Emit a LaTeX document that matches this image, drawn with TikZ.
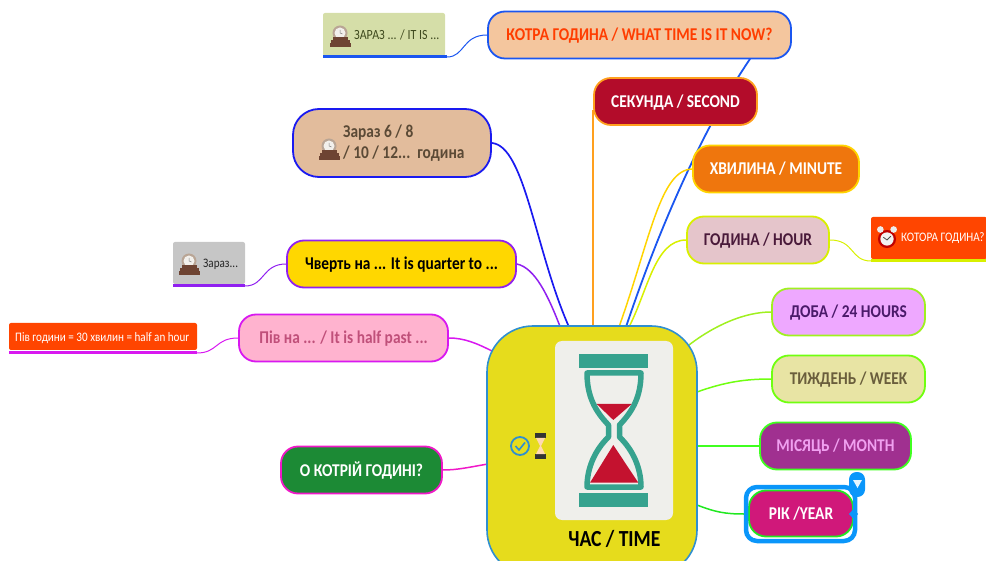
\documentclass[tikz,border=0pt]{standalone}
\usepackage{fontspec}
\setmainfont[FakeStretch=0.855]{Carlito}
\usetikzlibrary{
  backgrounds
}
\definecolor{tealglass}{HTML}{36A28E}
\definecolor{redsand}{HTML}{C4122F}
\definecolor{selblue}{HTML}{0A96FA}
\definecolor{timefill}{HTML}{E6DC1C}
\definecolor{timeline}{HTML}{2F8FD0}
\definecolor{cardfill}{HTML}{EFEFEB}
\definecolor{linkblue}{HTML}{1A56F0}
\definecolor{linkindigo}{HTML}{1A1AF0}
\definecolor{linkorange}{HTML}{FFA01E}
\definecolor{linkyellow}{HTML}{FFD400}
\definecolor{linkacid}{HTML}{D8F000}
\definecolor{linklime}{HTML}{A0F020}
\definecolor{linkgreen}{HTML}{70FF10}
\definecolor{linkgreenb}{HTML}{40FF20}
\definecolor{linkgreenc}{HTML}{20E820}
\definecolor{linkpurple}{HTML}{9020F0}
\definecolor{linkpink}{HTML}{D818F0}
\definecolor{linkrose}{HTML}{F018C8}
\definecolor{nowfill}{HTML}{F4C69E}
\definecolor{nowtext}{HTML}{FF3D00}
\definecolor{secondfill}{HTML}{B30C2A}
\definecolor{minutefill}{HTML}{EF760D}
\definecolor{hourfill}{HTML}{E5C5CB}
\definecolor{hourtext}{HTML}{4A1A3A}
\definecolor{dayfill}{HTML}{EEA8FF}
\definecolor{daytext}{HTML}{4A1A6A}
\definecolor{weekfill}{HTML}{E8E4A4}
\definecolor{weektext}{HTML}{6A5E3C}
\definecolor{monthfill}{HTML}{A03090}
\definecolor{monthtext}{HTML}{F0A0F0}
\definecolor{yearfill}{HTML}{D0187A}
\definecolor{sixfill}{HTML}{E2BC9C}
\definecolor{sixtext}{HTML}{5B4A36}
\definecolor{quarterfill}{HTML}{FFD700}
\definecolor{halffill}{HTML}{FFB3CF}
\definecolor{halftext}{HTML}{C0507A}
\definecolor{whichfill}{HTML}{1C8A35}
\definecolor{itisfill}{HTML}{D5DEA8}
\definecolor{itistext}{HTML}{3F4A1E}
\definecolor{greyfill}{HTML}{C6C6C6}
\definecolor{alertfill}{HTML}{FF4500}
\definecolor{woodbrown}{HTML}{6E4433}
\definecolor{clockdome}{HTML}{B9A595}
\definecolor{clockface}{HTML}{F2F0EC}
\tikzset{
  topic/.style={draw, rounded corners=17pt, line width=1.8, inner sep=0,
    minimum height=47, text height=12pt, text depth=0pt,
    font=\bfseries\fontsize{18}{21}\selectfont},
  subtopic/.style={rounded corners=2pt, inner sep=0},
  subtext/.style={inner sep=0, anchor=west, font=\fontsize{13}{15}\selectfont},
  underline/.style={line width=3},
  link/.style={line width=1.5},
  sublink/.style={line width=1},
  clockicon/.pic={
    \fill[clockdome] (0,-4) circle (7.5);
    \fill[clockface] (0,-4) circle (5.5);
    \draw[black!50, line width=0.5] (0,-7) -- (0,-4) -- (2.5,-3);
    \fill[woodbrown] (-7.5,0) rectangle (7.5,3);
    \fill[woodbrown] (-9.5,3) rectangle (9.5,6);
    \fill[woodbrown] (-10.5,6) rectangle (10.5,10);
  },
  alarmicon/.pic={
    \fill[red!75!black] (0,0) circle (9.5);
    \fill[white!90!gray] (0,0) circle (7);
    \fill[white!85!gray] (-7,-10) circle (3.5);
    \fill[white!85!gray] (7,-10) circle (3.5);
    \draw[black!70, line width=0.8] (-4,-2) -- (0,1) -- (4,-3);
  }
}
\begin{document}
\begin{tikzpicture}[x=1pt, y=-1pt]
  \clip (0,0) rectangle (986,561);

  % central topic
  \node[draw=timeline, fill=timefill, line width=1.6, rounded corners=46pt,
    minimum width=210, minimum height=250, inner sep=0] (time) at (592,451) {};
  \node[fill=cardfill, rounded corners=7pt, minimum width=118,
    minimum height=179, inner sep=0] (card) at (614,430.5) {};
  \node[inner sep=0, font=\bfseries\fontsize{23}{26}\selectfont] (timetext) at (614.5,539) {ЧАС / TIME};
  \coordinate (timesix) at (569,327);
  \coordinate (timequarter) at (561,329);
  \coordinate (timehalf) at (492,351);
  \coordinate (timewhich) at (488,464);
  \coordinate (timesecond) at (593,327);
  \coordinate (timeminute) at (619,327);
  \coordinate (timenow) at (626,327);
  \coordinate (timehour) at (629,327);
  \coordinate (timeday) at (689,345);
  \coordinate (timeweek) at (697,392);
  \coordinate (timemonth) at (697,446);
  \coordinate (timeyear) at (697,505);

  % hourglass
  \fill[tealglass] (578.7,354) rectangle (648,368);
  \fill[tealglass] (578.7,492.7) rectangle (648,506.7);
  \draw[tealglass, line width=5.5, line join=round]
  (587,373) -- (641,373) .. controls (641,396) and (633,411) .. (619.5,425)
  -- (619.5,437) .. controls (633,450) and (641,468) .. (641,487)
  -- (587,487) .. controls (587,468) and (595,450) .. (608.5,437)
  -- (608.5,425) .. controls (595,411) and (587,396) .. (587,373) -- cycle;
  \fill[redsand] (596.7,404) -- (631.7,404) -- (613.3,420) -- cycle;
  \fill[redsand] (613.3,445) -- (638.3,482.7) -- (590,482.7) -- cycle;

  % check mark and small hourglass
  \draw[timeline, line width=1.8] (520,446) circle (9);
  \draw[timeline, line width=1.6] (515.5,446) -- (519,450) -- (525,442.5);
  \fill[black!80] (535,433) rectangle (546,438);
  \fill[black!80] (535,454) rectangle (546,459);
  \fill[orange!30!white] (536,438) -- (545,438) -- (541,446) -- (545,454) -- (536,454) -- (540,446) -- cycle;

  % main topics
  \node[topic, draw=linkblue, fill=nowfill, text=nowtext, minimum width=303] (now) at (639.5,35) {КОТРА ГОДИНА / WHAT TIME IS IT NOW?};
  \node[topic, draw=linkorange, fill=secondfill, text=white, minimum width=163] (second) at (675.5,101.5) {СЕКУНДА / SECOND};
  \node[topic, draw=linkyellow, fill=minutefill, text=white, minimum width=166] (minute) at (776,169) {ХВИЛИНА / MINUTE};
  \node[topic, draw=linkacid, fill=hourfill, text=hourtext, minimum width=142] (hour) at (758,240) {ГОДИНА / HOUR};
  \node[topic, draw=linklime, fill=dayfill, text=daytext, minimum width=153] (day) at (848.5,312) {ДОБА / 24 HOURS};
  \node[topic, draw=linkgreen, fill=weekfill, text=weektext, minimum width=153] (week) at (848.5,379) {ТИЖДЕНЬ / WEEK};
  \node[topic, draw=linkgreenb, fill=monthfill, text=monthtext, minimum width=151] (month) at (835.5,446) {МІСЯЦЬ / MONTH};
  \node[topic, draw=linkgreenc, fill=yearfill, text=white, minimum width=104, minimum height=46] (year) at (801,513.5) {РІК /YEAR};
  \node[topic, draw=linkindigo, fill=sixfill, minimum width=198, minimum height=68, rounded corners=26pt] (sixeight) at (392,143) {};
  \pic at (329,150) {clockicon};
  \node[inner sep=0, anchor=west, align=left, text=sixtext,
    font=\bfseries\fontsize{18}{21}\selectfont] (sixeighttext) at (343,143) {Зараз 6 / 8\\/ 10 / 12...~~година};
  \node[topic, draw=linkpurple, fill=quarterfill, text=black, minimum width=229] (quarter) at (401.5,264) {Чверть на ... It is quarter to ...};
  \node[topic, draw=linkpink, fill=halffill, text=halftext, minimum width=209] (half) at (343.5,338) {Пів на ... / It is half past ...};
  \node[topic, draw=linkrose, fill=whichfill, text=white, minimum width=161] (which) at (361.5,470) {О КОТРІЙ ГОДИНІ?};

  % selected topic
  \node[draw=selblue, line width=4.5, rounded corners=11pt, minimum width=109, minimum height=54,
    inner sep=0] (yearsel) at (800.5,514) {};
  \fill[selblue, rounded corners=7.5pt] (849,472) rectangle (865,497);
  \fill[white!90!selblue] (853,480) -- (862,480) -- (857.5,488) -- cycle;
  \fill[selblue] (849,514) -- (853.5,509) -- (858,514) -- (853.5,519) -- cycle;

  % subtopics
  \node[subtopic, fill=itisfill, minimum width=122, minimum height=43] (itis) at (384,34.5) {};
  \pic at (340,37) {clockicon};
  \node[subtext, text=itistext, font=\fontsize{14}{16}\selectfont] (itistext) at (354,35) {ЗАРАЗ ... / IT IS ...};
  \coordinate (itisend) at (447,57);
  \coordinate (itisstart) at (323,57);
  \draw[underline, linkblue] (itisstart) -- (itisend);

  \node[subtopic, fill=greyfill, minimum width=72, minimum height=42] (nowgrey) at (209,263) {};
  \pic at (189,265) {clockicon};
  \node[subtext, text=black!85] (nowgreytext) at (203,264) {Зараз...};
  \coordinate (nowgreyend) at (245,286);
  \coordinate (nowgreystart) at (173,286);
  \draw[underline, linkpurple] (nowgreystart) -- (nowgreyend);

  \node[subtopic, fill=alertfill, minimum width=188, minimum height=27] (halfhour) at (103,336.5) {};
  \node[subtext, text=white] (halfhourtext) at (15,338) {Пів години = 30 хвилин = half an hour};
  \coordinate (halfhourend) at (197,353);
  \coordinate (halfhourstart) at (9,353);
  \draw[underline, linkpink] (halfhourstart) -- (halfhourend);

  \node[subtopic, fill=alertfill, minimum width=116, minimum height=42] (which2) at (929,238) {};
  \pic[scale=0.95] at (887,239) {alarmicon};
  \node[subtext, text=white] (which2text) at (901,238.5) {КОТОРА ГОДИНА?};
  \coordinate (which2start) at (871,261);
  \coordinate (which2end) at (986,261);
  \draw[underline, linkacid] (which2start) -- (which2end);

  % connectors
  \coordinate (nowfoot) at (750,59);
  \coordinate (secondfoot) at (593,110);
  \begin{scope}[on background layer]
    \draw[link, linkblue, line width=1.8] (nowfoot)
    .. controls (705,125) and (660,225) .. (timenow);
    \draw[link, linkindigo, line width=1.7] (sixeight.east)
    .. controls (525,146) and (535,250) .. (timesix);
    \draw[link, linkpurple] (quarter.east)
    .. controls (535,268) and (548,295) .. (timequarter);
    \draw[link, linkpink] (half.east)
    .. controls (465,338) and (478,344) .. (timehalf);
    \draw[link, linkrose] (which.east)
    .. controls (458,470) and (470,467) .. (timewhich);
    \draw[link, linkorange] (secondfoot) -- (timesecond);
    \draw[link, linkyellow] (minute.west)
    .. controls (660,170) and (650,240) .. (timeminute);
    \draw[link, linkacid] (hour.west)
    .. controls (655,240) and (648,290) .. (timehour);
    \draw[link, linklime] (day.west)
    .. controls (745,312) and (715,325) .. (timeday);
    \draw[link, linkgreen] (week.west)
    .. controls (745,379) and (725,382) .. (timeweek);
    \draw[link, linkgreenb] (month.west) -- (timemonth);
    \draw[link, linkgreenc] (yearsel.west)
    .. controls (725,514) and (715,512) .. (timeyear);
    \draw[sublink, linkblue] (now.west)
    .. controls (462,35) and (465,57) .. (itisend);
    \draw[sublink, linkacid] (hour.east)
    .. controls (855,240) and (850,261) .. (which2start);
    \draw[sublink, linkpurple] (quarter.west)
    .. controls (262,264) and (265,286) .. (nowgreyend);
    \draw[sublink, linkpink] (half.west)
    .. controls (215,338) and (218,353) .. (halfhourend);
  \end{scope}
\end{tikzpicture}
\end{document}
